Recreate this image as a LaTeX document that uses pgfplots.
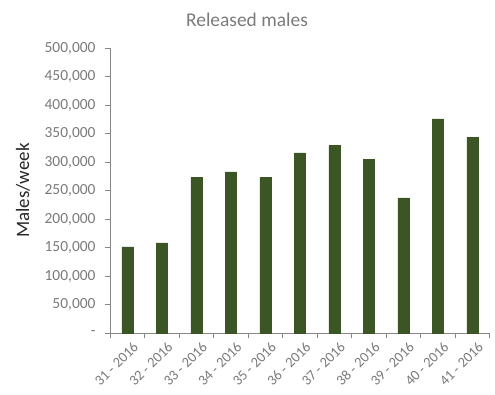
\documentclass[border=0pt]{standalone}
\usepackage{pgfplots}
\pgfplotsset{compat=1.18}
\usepackage{fontspec}
\setmainfont{Carlito}
\definecolor{bargreen}{RGB}{59,86,36}
\definecolor{axgray}{RGB}{134,134,134}
\definecolor{txtgray}{RGB}{122,122,122}
\begin{document}
\begin{tikzpicture}[x=1bp,y=1bp]
\useasboundingbox (0,0) rectangle (495,394);
\begin{axis}[
  at={(110bp,60.7bp)}, anchor=south west,
  scale only axis, width=379.5bp, height=285bp,
  xmin=-0.5, xmax=10.5, ymin=0, ymax=500000,
  axis x line*=bottom, axis y line*=left,
  axis line style={axgray, line width=0.8pt},
  tick align=outside,
  xtick={0,...,10},
  xticklabels={31 - 2016,32 - 2016,33 - 2016,34 - 2016,35 - 2016,36 - 2016,37 - 2016,38 - 2016,39 - 2016,40 - 2016,41 - 2016},
  major x tick style={draw=none},
  minor xtick={-0.5,0.5,...,10.5},
  minor x tick style={axgray, line width=0.8pt},
  minor tick length=5bp,
  x tick label style={rotate=45, anchor=north east, font=\fontsize{14.5}{15}\selectfont, text=txtgray, xshift=5bp, yshift=-2bp},
  ytick={0,50000,...,500000},
  yticklabels={{-\hspace{7bp}},{50,000},{100,000},{150,000},{200,000},{250,000},{300,000},{350,000},{400,000},{450,000},{500,000}},
  major y tick style={axgray, line width=0.8pt},
  major tick length=5bp,
  y tick label style={font=\fontsize{15.5}{16}\selectfont, text=txtgray, xshift=-6bp},
  /pgf/number format/assume math mode=true,
  scaled y ticks=false,
  clip=false,
]
\addplot[ybar, bar width=11bp, fill=bargreen, draw=bargreen] coordinates {
  (0,151700) (1,158700) (2,273300) (3,283100) (4,273300) (5,316400)
  (6,329900) (7,305400) (8,237600) (9,376000) (10,343900)
};
\end{axis}
\node[font=\fontsize{19.5}{21}\selectfont, text=txtgray] at (247,374.5) {Released males};
\node[font=\fontsize{19}{21}\selectfont, text=black!85, rotate=90] at (23,203.5) {Males/week};
\end{tikzpicture}
\end{document}
